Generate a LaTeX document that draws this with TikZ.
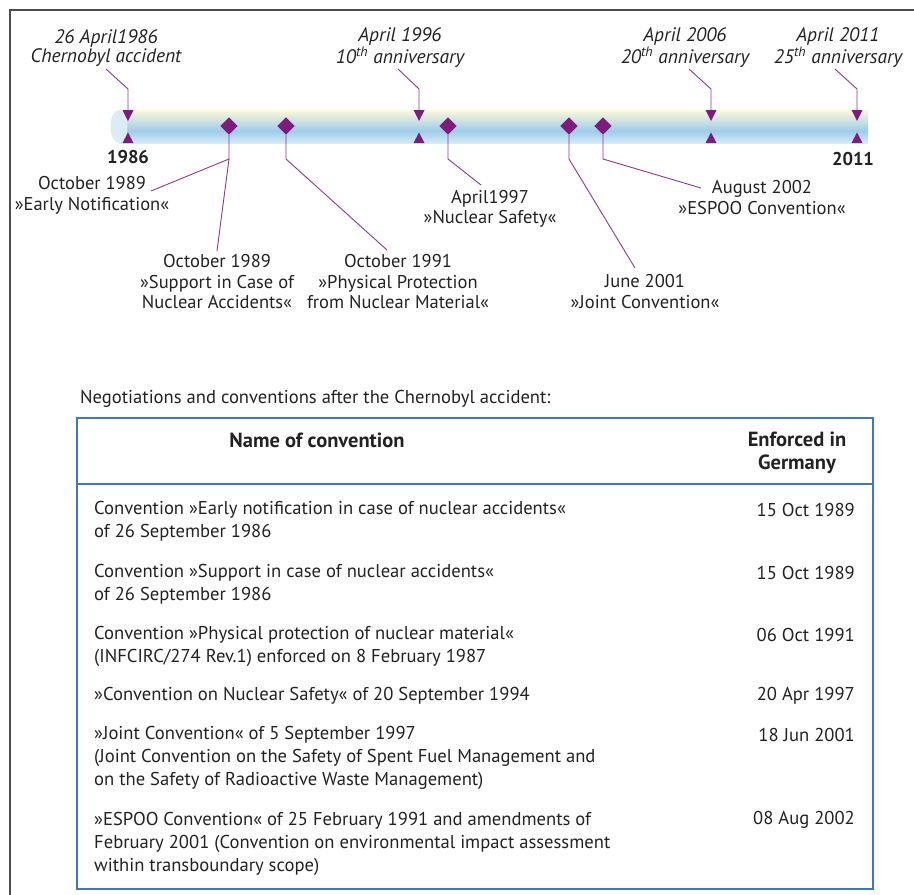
\documentclass[tikz,border=0pt]{standalone}
\usepackage{fontspec}
\setmainfont{PT Sans}
\usetikzlibrary{shapes.geometric}

\definecolor{markpurple}{HTML}{7E1C7E}
\definecolor{leaderpurple}{HTML}{8E3590}
\definecolor{tableblue}{HTML}{3B78C0}
\definecolor{framegray}{HTML}{4D4D4D}
\definecolor{barTop}{HTML}{FCF8DA}
\definecolor{barMid}{HTML}{9ECCEB}
\definecolor{barBot}{HTML}{D6ECF4}
\definecolor{capfill}{HTML}{DAECF6}
\definecolor{textgray}{HTML}{222222}

\tikzset{
  leader/.style={draw=leaderpurple, line width=0.9pt},
  marker/.style={diamond, fill=markpurple, inner sep=0pt, minimum size=17.5pt},
  eventlabel/.style={align=center, inner sep=0pt, text=textgray,
    font=\fontsize{18.5}{20.5}\selectfont},
  datelabel/.style={align=center, inner sep=0pt, text=textgray,
    font=\itshape\fontsize{19.5}{18.5}\selectfont},
  yearlabel/.style={inner sep=0pt, text=textgray,
    font=\bfseries\fontsize{18.5}{20}\selectfont},
  rowtext/.style={align=left, anchor=west, inner sep=0pt, text=textgray,
    font=\fontsize{18.6}{23}\selectfont},
  rowdate/.style={anchor=east, inner sep=0pt, text=textgray,
    font=\fontsize{18.6}{23}\selectfont},
  headtext/.style={align=center, inner sep=0pt, text=textgray,
    font=\bfseries\fontsize{20.5}{23}\selectfont},
}

\begin{document}
\begin{tikzpicture}[x=1pt, y=-1pt]
\useasboundingbox (0,0) rectangle (914,895);

% outer frame
\draw[framegray, line width=1.6pt] (10,920) -- (10,10) -- (940,10);

% time bar with cylinder end cap
\shade[top color=barTop, bottom color=barMid] (119,110) rectangle (868,131);
\shade[top color=barMid, bottom color=barBot] (119,131) rectangle (868,143);
\fill[capfill] (119,126.5) ellipse [x radius=8.5, y radius=16.5];

% anniversary marks: down and up arrowheads on the bar
\foreach \x/\n in {128/a, 419/b, 711/c, 857/d}{
  \coordinate (top\n) at (\x,110);
  \fill[markpurple] (\x-5.5,110) -- (\x+5.5,110) -- (\x,121) -- cycle;
  \fill[markpurple] (\x-5.5,143) -- (\x+5.5,143) -- (\x,132.5) -- cycle;
}

% anniversary labels
\node[datelabel] (lba) at (106,48) {26 April1986\\Chernobyl accident};
\node[datelabel] (lbb) at (400,48) {April 1996\\10\textsuperscript{th} anniversary};
\node[datelabel] (lbc) at (685,48) {April 2006\\20\textsuperscript{th} anniversary};
\node[datelabel] (lbd) at (838,48) {April 2011\\25\textsuperscript{th} anniversary};

\foreach \n/\xs/\xe in {a/106/128, b/398/419, c/689/711, d/835/857}{
  \coordinate (sa\n) at (\xs,69);
  \coordinate (ka\n) at (\xe,89);
  \draw[leader] (sa\n) -- (ka\n) -- (top\n);
}

% year labels
\node[yearlabel] (y1986) at (128,157) {1986};
\node[yearlabel] (y2011) at (853,159) {2011};

% convention markers
\node[marker] (m1) at (229,126) {};
\node[marker] (m2) at (286,126) {};
\node[marker] (m3) at (448,126) {};
\node[marker] (m4) at (569,126) {};
\node[marker] (m5) at (603,126) {};

% convention labels
\node[eventlabel] (e1) at (92,195.5) {October 1989\\»Early Notification«};
\node[eventlabel] (e2) at (217,282) {October 1989\\»Support in Case of\\Nuclear Accidents«};
\node[eventlabel] (e3) at (398,282) {October 1991\\»Physical Protection\\from Nuclear Material«};
\node[eventlabel] (e4) at (490,209) {April1997\\»Nuclear Safety«};
\node[eventlabel] (e5) at (645,291.5) {June 2001\\»Joint Convention«};
\node[eventlabel] (e6) at (762,197.5) {August 2002\\»ESPOO Convention«};

% leader lines from markers to labels
\coordinate (b1) at (229,159);
\coordinate (b2) at (286,159);
\coordinate (b3) at (448,159);
\coordinate (b4) at (569,159);
\coordinate (b5) at (603,159);
\coordinate (t1) at (151,191);
\coordinate (t2) at (217,251);
\coordinate (t3) at (387,250);
\coordinate (t4) at (481,185);
\coordinate (t5) at (635,268);
\coordinate (t6) at (701,188);
\draw[leader] (m1.south) -- (b1) -- (t1);
\draw[leader] (b1) -- (t2);
\draw[leader] (m2.south) -- (b2) -- (t3);
\draw[leader] (m3.south) -- (b3) -- (t4);
\draw[leader] (m4.south) -- (b4) -- (t5);
\draw[leader] (m5.south) -- (b5) -- (t6);

% table
\node[rowtext] (caption) at (80,398.5) {Negotiations and conventions after the Chernobyl accident:};
\draw[tableblue, line width=1.3pt] (77,418) rectangle (873,889);
\draw[tableblue, line width=1.1pt] (77,484) -- (873,484);

\node[headtext] (hname) at (317,440.5) {Name of convention};
\node[headtext] (hdate) at (797,453) {Enforced in\\Germany};

\node[rowtext] (r1) at (94,521.5) {Convention »Early notification in case of nuclear accidents«\\of 26 September 1986};
\node[rowdate] (d1) at (855,510) {15 Oct 1989};
\node[rowtext] (r2) at (94,584.5) {Convention »Support in case of nuclear accidents«\\of 26 September 1986};
\node[rowdate] (d2) at (855,573) {15 Oct 1989};
\node[rowtext] (r3) at (94,646.5) {Convention »Physical protection of nuclear material«\\(INFCIRC/274 Rev.1) enforced on 8 February 1987};
\node[rowdate] (d3) at (855,635) {06 Oct 1991};
\node[rowtext] (r4) at (94,696) {»Convention on Nuclear Safety« of 20 September 1994};
\node[rowdate] (d4) at (855,696) {20 Apr 1997};
\node[rowtext] (r5) at (94,757.5) {»Joint Convention« of 5 September 1997\\(Joint Convention on the Safety of Spent Fuel Management and\\on the Safety of Radioactive Waste Management)};
\node[rowdate] (d5) at (855,735) {18 Jun 2001};
\node[rowtext] (r6) at (94,843.5) {»ESPOO Convention« of 25 February 1991 and amendments of\\February 2001 (Convention on environmental impact assessment\\within transboundary scope)};
\node[rowdate] (d6) at (855,820) {08 Aug 2002};
\end{tikzpicture}
\end{document}
